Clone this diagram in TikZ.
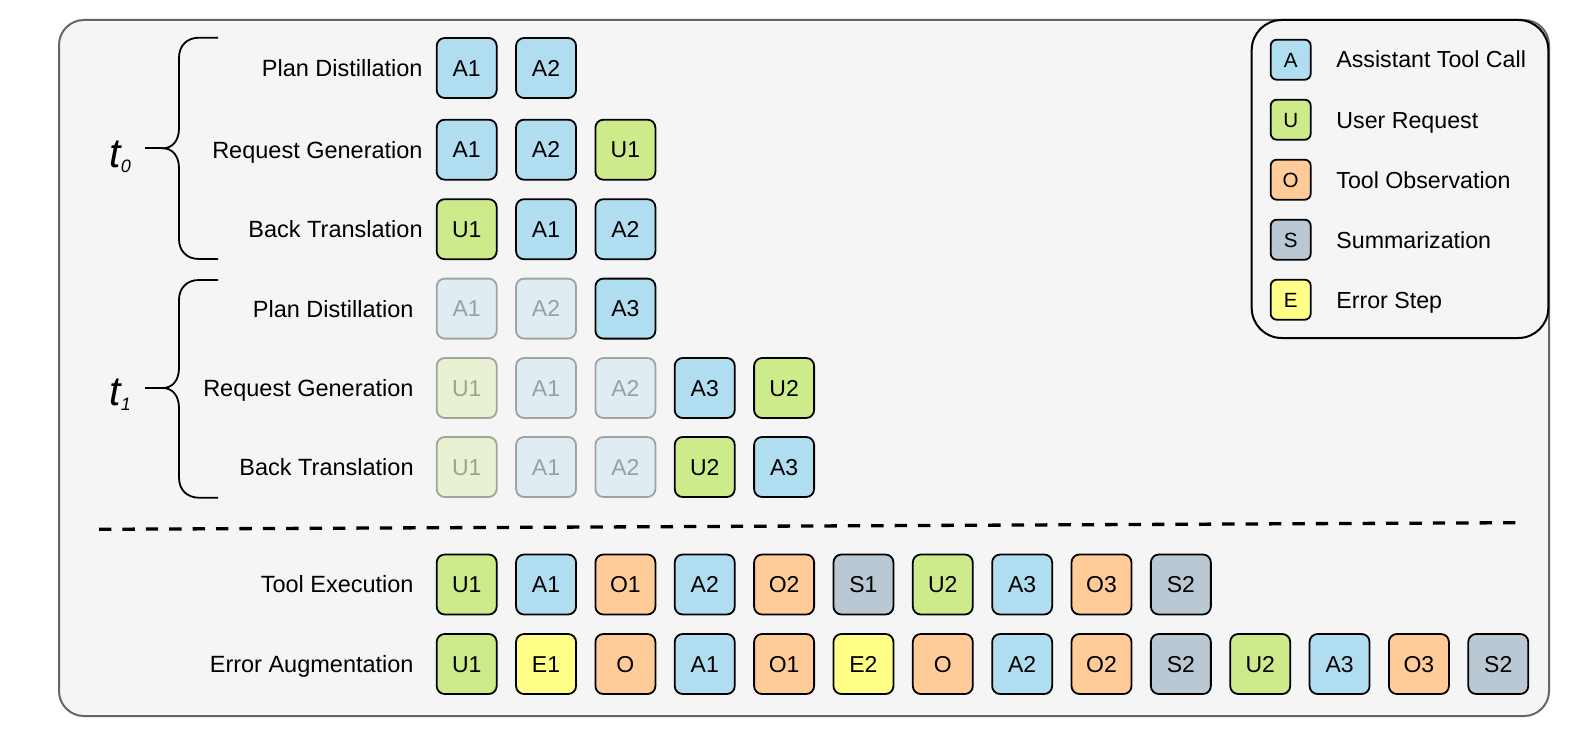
\documentclass[tikz,border=0pt]{standalone}
\usepackage{fontspec}
\setmainfont{Liberation Sans}
\definecolor{cA}{HTML}{B1DDF0}
\definecolor{cU}{HTML}{CDEB8B}
\definecolor{cO}{HTML}{FFCC99}
\definecolor{cS}{HTML}{BAC8D3}
\definecolor{cE}{HTML}{FFFF88}
\definecolor{bgc}{HTML}{F5F5F5}
\definecolor{framec}{HTML}{666666}
\tikzset{
 stepbox/.style={draw=black, line width=0.9pt, rounded corners=4pt, minimum width=30pt, minimum height=30pt, inner sep=0pt, font=\fontsize{11.5}{11.5}\selectfont, text height=8.2pt, text depth=0pt},
 faded/.style={opacity=0.32},
 vivid/.style={},
 rowlabel/.style={anchor=east, inner sep=0pt, font=\fontsize{11.75}{11.75}\selectfont, text height=8.4pt, text depth=0pt},
 legbox/.style={draw=black, line width=0.9pt, rounded corners=3pt, minimum width=20pt, minimum height=20pt, inner sep=0pt, font=\fontsize{10.3}{10.3}\selectfont, text height=7.4pt, text depth=0pt},
 legtext/.style={anchor=west, inner sep=0pt, font=\fontsize{11.6}{11.6}\selectfont, text height=8.3pt, text depth=0pt},
 bracepath/.style={draw=black, line width=0.9pt},
 tlabel/.style={anchor=base west, inner sep=0pt},
}
\begin{document}
\begin{tikzpicture}[x=0.5pt,y=-0.5pt]
\useasboundingbox (0,0) rectangle (1589,738);
\fill[white] (0,0) rectangle (1589,738);
% outer frame
\draw[fill=bgc, draw=framec, line width=1pt, rounded corners=12.5pt] (59,20) rectangle (1549,716);
% legend
\draw[fill=bgc, draw=black, line width=1pt, rounded corners=15pt] (1251.7,20) rectangle (1548.3,338);
\foreach \l/\c/\txt [count=\i from 0] in {A/A/Assistant Tool Call, U/U/User Request, O/O/Tool Observation, S/S/Summarization, E/E/Error Step} {
  \node[legbox, fill=c\c] (lg\l) at (1290.7,{59.7+60*\i}) {\l};
  \node[legtext] (lt\l) at (1336,{59.7+60*\i}) {\txt};
}
% braces
\draw[bracepath] (218,37.7) -- (199,37.7) .. controls (187,37.7) and (179,45.7) .. (179,57.7) -- (179,128.3) .. controls (179,141) and (172,148.3) .. (163,148.3) .. controls (172,148.3) and (179,155.6) .. (179,168.3) -- (179,239) .. controls (179,251) and (187,259) .. (199,259) -- (218,259);
\draw[bracepath] (145,148.3) -- (163,148.3);
\draw[bracepath] (218,280) -- (199,280) .. controls (187,280) and (179,288) .. (179,300) -- (179,368) .. controls (179,380.7) and (172,388) .. (163,388) .. controls (172,388) and (179,395.3) .. (179,408) -- (179,477.7) .. controls (179,489.7) and (187,497.7) .. (199,497.7) -- (218,497.7);
\draw[bracepath] (145,388) -- (163,388);
\node[tlabel] (tzero) at (109,167) {\fontsize{20.5}{20.5}\selectfont\itshape t\raisebox{-2.5pt}{\fontsize{9}{9}\selectfont 0}};
\node[tlabel] (tone) at (109,405) {\fontsize{20.5}{20.5}\selectfont\itshape t\raisebox{-2.5pt}{\fontsize{9}{9}\selectfont 1}};
% row labels
\node[rowlabel] (l1) at (423,68) {Plan Distillation};
\node[rowlabel] (l2) at (423,149.7) {Request Generation};
\node[rowlabel] (l3) at (423,229.2) {Back Translation};
\node[rowlabel] (l4) at (414,308.6) {Plan Distillation};
\node[rowlabel] (l5) at (414,388) {Request Generation};
\node[rowlabel] (l6) at (414,467) {Back Translation};
\node[rowlabel] (l7) at (414,584.5) {Tool Execution};
\node[rowlabel] (l8) at (414,664) {Error Augmentation};
% rows
\foreach \t/\c [count=\i from 0] in {A1/A, A2/A}
  \node[stepbox, fill=c\c] (r1c\i) at ({466.7+79.35*\i},68) {\t};
\foreach \t/\c [count=\i from 0] in {A1/A, A2/A, U1/U}
  \node[stepbox, fill=c\c] (r2c\i) at ({466.7+79.35*\i},149.7) {\t};
\foreach \t/\c [count=\i from 0] in {U1/U, A1/A, A2/A}
  \node[stepbox, fill=c\c] (r3c\i) at ({466.7+79.35*\i},229.2) {\t};
\foreach \t/\c/\f [count=\i from 0] in {A1/A/faded, A2/A/faded, A3/A/vivid}
  \node[stepbox, fill=c\c, \f] (r4c\i) at ({466.7+79.35*\i},308.6) {\t};
\foreach \t/\c/\f [count=\i from 0] in {U1/U/faded, A1/A/faded, A2/A/faded, A3/A/vivid, U2/U/vivid}
  \node[stepbox, fill=c\c, \f] (r5c\i) at ({466.7+79.35*\i},388) {\t};
\foreach \t/\c/\f [count=\i from 0] in {U1/U/faded, A1/A/faded, A2/A/faded, U2/U/vivid, A3/A/vivid}
  \node[stepbox, fill=c\c, \f] (r6c\i) at ({466.7+79.35*\i},467) {\t};
% separator
\coordinate (dashL) at (99,529.3);
\coordinate (dashR) at (1517.7,522.7);
\draw[line width=1.65pt, dash pattern=on 6.2pt off 5.5pt] (dashL) -- (dashR);
\foreach \t/\c [count=\i from 0] in {U1/U, A1/A, O1/O, A2/A, O2/O, S1/S, U2/U, A3/A, O3/O, S2/S}
  \node[stepbox, fill=c\c] (r7c\i) at ({466.7+79.35*\i},584.5) {\t};
\foreach \t/\c [count=\i from 0] in {U1/U, E1/E, O/O, A1/A, O1/O, E2/E, O/O, A2/A, O2/O, S2/S, U2/U, A3/A, O3/O, S2/S}
  \node[stepbox, fill=c\c] (r8c\i) at ({466.7+79.35*\i},664) {\t};
\end{tikzpicture}
\end{document}
